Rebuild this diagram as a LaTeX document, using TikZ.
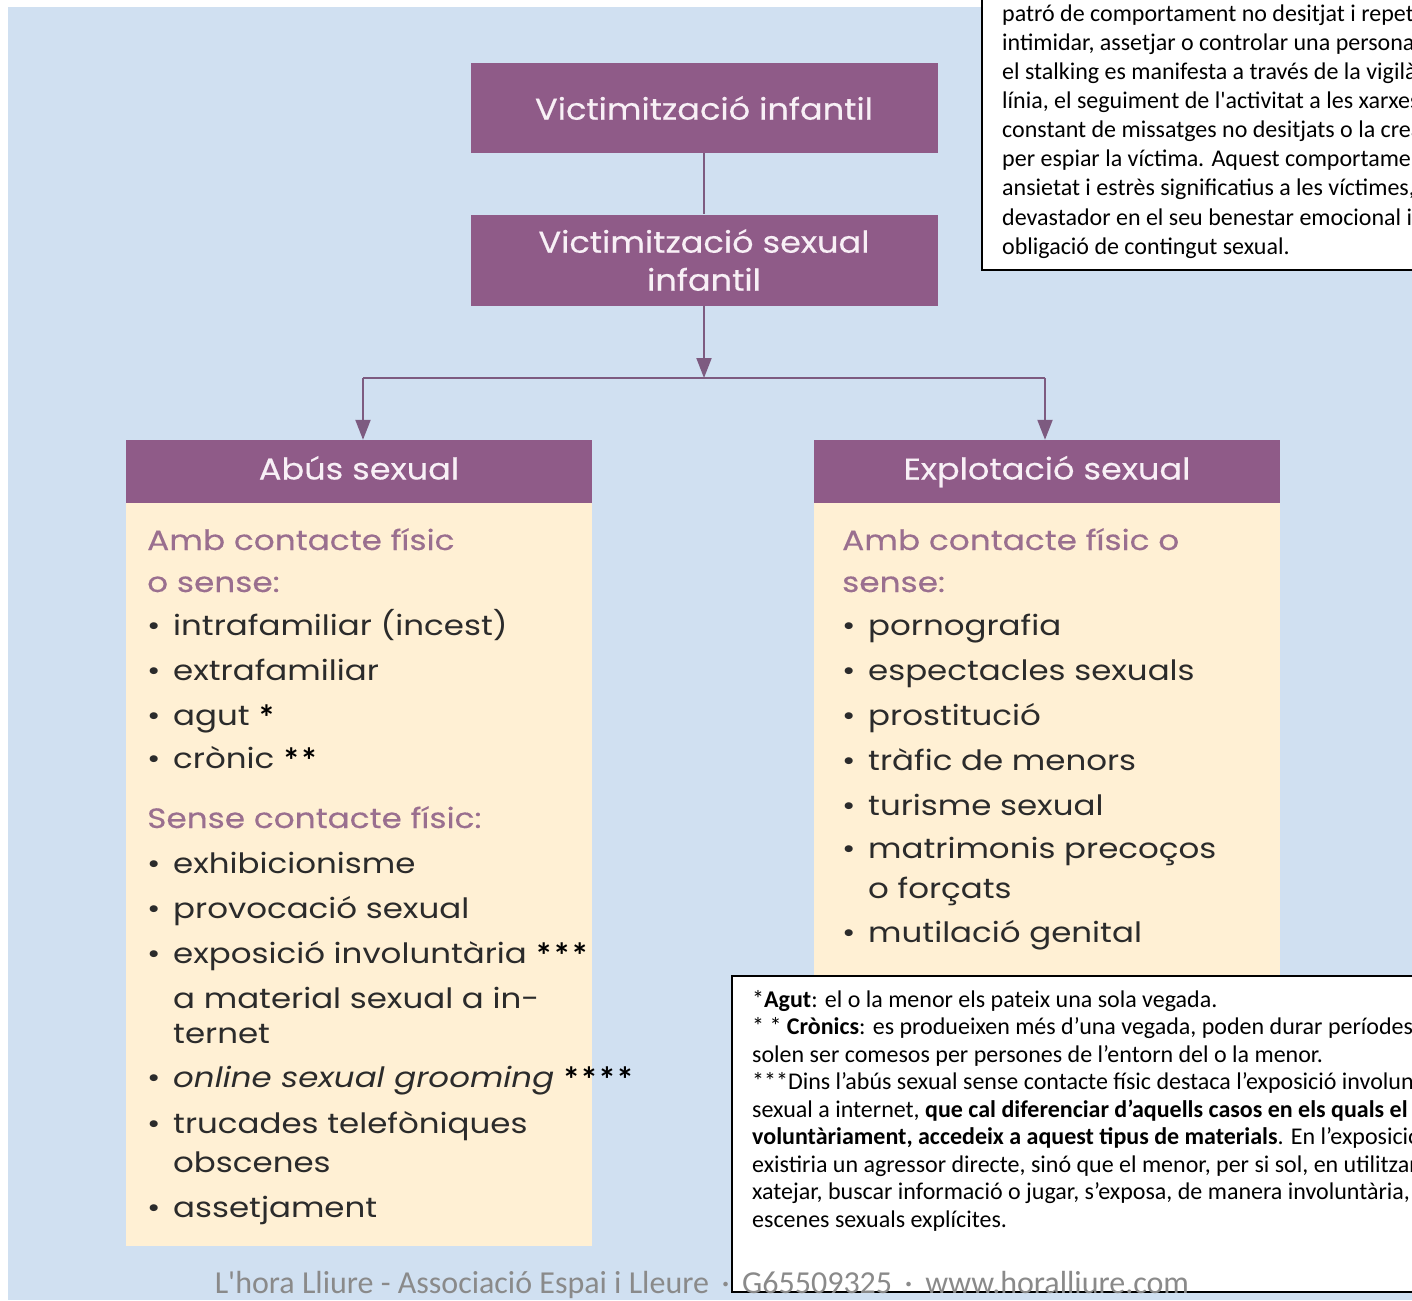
\documentclass[tikz,border=0pt]{standalone}
\usepackage{fontspec}
\setmainfont{Poppins}
\newfontfamily\notefont{Carlito}
\newfontfamily\bodyfont{Poppins}[FakeStretch=1.16]
\newfontfamily\subfont{Poppins}[FakeStretch=1.17, FakeBold=0.3]
\newfontfamily\headfont{Poppins}[FakeStretch=1.12, FakeBold=0.4]
\usetikzlibrary{arrows.meta}
\definecolor{bgblue}{HTML}{D0E0F1}
\definecolor{plum}{HTML}{8F5B88}
\definecolor{headtxt}{HTML}{F8F0F6}
\definecolor{cream}{HTML}{FFF0D4}
\definecolor{mauve}{HTML}{9A6F8F}
\definecolor{linec}{HTML}{7D5B80}
\definecolor{bodytxt}{HTML}{2B2B2B}
\definecolor{foot}{HTML}{8A8A8A}
\newcommand\bul[1]{\makebox[26pt][l]{•}#1}
\newcommand\stars[1]{\hspace{8pt}\raisebox{-5pt}{\notefont\fontsize{36}{36}\selectfont\bfseries\color{black}#1}}
\tikzset{
  plumbox/.style={fill=plum, draw=none, text=headtxt, font=\headfont\fontsize{30}{38}\selectfont, inner sep=0pt, align=center},
  headbox/.style={plumbox, text height=22pt, text depth=6pt, minimum width=466pt, minimum height=63pt},
  creambox/.style={fill=cream, draw=none, inner sep=0pt},
  notebox/.style={fill=white, draw=black, line width=2pt},
  sub/.style={anchor=base west, inner sep=0pt, text=mauve, font=\subfont\fontsize{28}{28}\selectfont},
  item/.style={anchor=base west, inner sep=0pt, text=bodytxt, font=\bodyfont\fontsize{28}{28}\selectfont},
  notetop/.style={anchor=base west, inner sep=0pt, font=\notefont\fontsize{24}{29}\selectfont},
  notebot/.style={anchor=base west, inner sep=0pt, font=\notefont\fontsize{24}{27}\selectfont},
  connector/.style={draw=linec, line width=2pt},
  arrowed/.style={-{Triangle[width=15pt,length=20pt]}},
}
\begin{document}
\begin{tikzpicture}[x=1pt,y=-1pt]
\useasboundingbox (0,0) rectangle (1412,1300);
\clip (0,0) rectangle (1412,1300);
\fill[white] (0,0) rectangle (1412,1300);
\fill[bgblue] (8,7) rectangle (1412,1300);

% main boxes
\node[plumbox, minimum width=467pt, minimum height=90pt] (v1) at (704,108) {Victimització infantil};
\node[plumbox, minimum width=467pt, minimum height=91pt] (v2) at (704,260) {Victimització sexual\\infantil};
\node[headbox] (h1) at (359,471.5) {Abús sexual};
\node[headbox] (h2) at (1047,471.5) {Explotació sexual};
\node[creambox, anchor=north west, minimum width=466pt, minimum height=743pt] (b1) at (126,503) {};
\node[creambox, anchor=north west, minimum width=466pt, minimum height=500pt] (b2) at (814,503) {};

% connectors
\coordinate (split) at (704,378);
\coordinate (sl) at (363,378);
\coordinate (sr) at (1045,378);
\draw[connector] (v1.south) -- (v2.north);
\draw[connector, arrowed] (v2.south) -- (split);
\draw[connector] (sl) -- (sr);
\draw[connector, arrowed] (sl) -- (sl |- h1.north);
\draw[connector, arrowed] (sr) -- (sr |- h2.north);

% left list
\node[sub] (l1) at (147,550) {Amb contacte físic};
\node[sub] (l2) at (147,592) {o sense:};
\node[item] (l3) at (147,635) {\bul{intrafamiliar (incest)}};
\node[item] (l4) at (147,680) {\bul{extrafamiliar}};
\node[item] (l5) at (147,725) {\bul{agut}\stars{*}};
\node[item] (l6) at (147,768) {\bul{crònic}\stars{**}};
\node[sub] (l7) at (147,828) {Sense contacte físic:};
\node[item] (l8) at (147,873) {\bul{exhibicionisme}};
\node[item] (l9) at (147,918) {\bul{provocació sexual}};
\node[item] (l10) at (147,963) {\bul{exposició involuntària}\stars{***}};
\node[item] (l11) at (173,1008) {a material sexual a in-};
\node[item] (l12) at (173,1043) {ternet};
\node[item] (l13) at (147,1087) {\bul{\textit{online sexual grooming}}\stars{****}};
\node[item] (l14) at (147,1133) {\bul{trucades telefòniques}};
\node[item] (l15) at (173,1172) {obscenes};
\node[item] (l16) at (147,1217) {\bul{assetjament}};

% right list
\node[sub] (r1) at (842,550) {Amb contacte físic o};
\node[sub] (r2) at (842,592) {sense:};
\node[item] (r3) at (842,635) {\bul{pornografia}};
\node[item] (r4) at (842,680) {\bul{espectacles sexuals}};
\node[item] (r5) at (842,725) {\bul{prostitució}};
\node[item] (r6) at (842,770) {\bul{tràfic de menors}};
\node[item] (r7) at (842,815) {\bul{turisme sexual}};
\node[item] (r8) at (842,858) {\bul{matrimonis precoços}};
\node[item] (r9) at (868,898) {o forçats};
\node[item] (r10) at (842,942) {\bul{mutilació genital}};

% top note
\draw[notebox] (982,-10) rectangle (1430,270);
\node[notetop] (n1) at (1002,22) {patró de comportament no desitjat i repeti};
\node[notetop] (n2) at (1002,51) {intimidar, assetjar o controlar una persona};
\node[notetop] (n3) at (1002,80) {el stalking es manifesta a través de la vigilà};
\node[notetop] (n4) at (1002,109) {línia, el seguiment de l'activitat a les xarxes};
\node[notetop] (n5) at (1002,138) {constant de missatges no desitjats o la crea};
\node[notetop] (n6) at (1002,167) {per espiar la víctima. Aquest comportament};
\node[notetop] (n7) at (1002,196) {ansietat i estrès significatius a les víctimes,};
\node[notetop] (n8) at (1002,225) {devastador en el seu benestar emocional i};
\node[notetop] (n9) at (1002,254) {obligació de contingut sexual.};

% bottom note
\draw[notebox] (732,976) rectangle (1430,1292);
\node[notebot] (m1) at (752,1007) {*\textbf{Agut}: el o la menor els pateix una sola vegada.};
\node[notebot] (m2) at (752,1034.5) {* * \textbf{Crònics}: es produeixen més d’una vegada, poden durar períodes};
\node[notebot] (m3) at (752,1062) {solen ser comesos per persones de l’entorn del o la menor.};
\node[notebot] (m4) at (752,1089.5) {***Dins l’abús sexual sense contacte físic destaca l’exposició involunt};
\node[notebot] (m5) at (752,1117) {sexual a internet, \textbf{que cal diferenciar d’aquells casos en els quals el}};
\node[notebot] (m6) at (752,1144.5) {\textbf{voluntàriament, accedeix a aquest tipus de materials}. En l’exposició};
\node[notebot] (m7) at (752,1172) {existiria un agressor directe, sinó que el menor, per si sol, en utilitzar};
\node[notebot] (m8) at (752,1199.5) {xatejar, buscar informació o jugar, s’exposa, de manera involuntària,};
\node[notebot] (m9) at (752,1227) {escenes sexuals explícites.};

% footer
\node[anchor=base, inner sep=0pt, text=foot, font=\notefont\fontsize{32}{32}\selectfont] (ft) at (702,1293) {L'hora Lliure - Associació Espai i Lleure \,·\, G65509325 \,·\, www.horalliure.com};
\end{tikzpicture}
\end{document}
